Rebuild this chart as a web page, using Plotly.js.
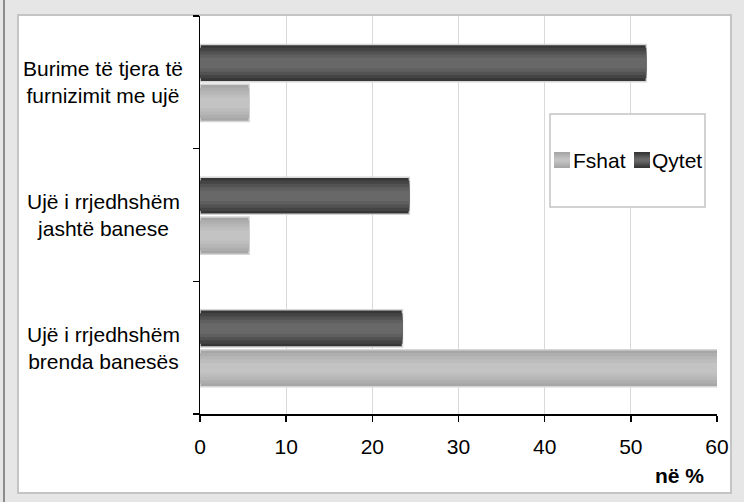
<!DOCTYPE html>
<html>
<head>
<meta charset="utf-8">
<script src="https://cdn.plot.ly/plotly-3.0.1.min.js"></script>
<style>
  html, body { margin: 0; padding: 0; background: #e6e6e6; }
  #chart { width: 744px; height: 502px; }
</style>
</head>
<body>
<div id="chart"></div>
<script>
// ---- data ----
const categories = [
  'Ujë i rrjedhshëm<br>brenda banesës',
  'Ujë i rrjedhshëm<br>jashtë banese',
  'Burime të tjera të<br>furnizimit me ujë'
];
const seriesNames = ['Fshat', 'Qytet'];
const fshatValues = [61, 5.7, 5.7];
const qytetValues = [23.5, 24.3, 51.8];
const xTickValues = [0, 10, 20, 30, 40, 50, 60];
const xAxisLabel = 'në %';

// ---- layout helpers (pixels -> paper) ----
const L = 200, R = 717, T = 16, B = 414;
const px = p => (p - L) / (R - L);
const py = p => (B - p) / (B - T);
const FONT = 'Liberation Sans, Arial, sans-serif';

const fshatShades = ['#a6a6a6', '#aeaeae', '#b6b6b6', '#bdbdbd', '#c3c3c3'];
const qytetShades = ['#363636', '#444444', '#525252', '#5f5f5f', '#686868'];
const insets = [0, 0.025, 0.05, 0.075, 0.1];
const barW = 0.28;

function layers(name, values, shades, offset) {
  return shades.map((c, i) => ({
    type: 'bar', orientation: 'h', name: name,
    x: values, y: categories,
    offset: offset + insets[i], width: barW - 2 * insets[i],
    marker: { color: c, line: { color: i === 0 ? '#d6d6d6' : c, width: i === 0 ? 1.5 : 0 } },
    showlegend: false, hoverinfo: 'skip'
  }));
}

const traces = [
  ...layers(seriesNames[0], fshatValues, fshatShades, -0.295),
  ...layers(seriesNames[1], qytetValues, qytetShades, 0.005)
];

// legend symbols drawn as gradient squares
function legendSymbol(x0, y0, size, shades) {
  const out = [];
  const step = size / (2 * shades.length);
  shades.forEach((c, i) => {
    out.push({
      type: 'rect', xref: 'paper', yref: 'paper', layer: 'above',
      x0: px(x0), x1: px(x0 + size),
      y0: py(y0 + i * step), y1: py(y0 + size - i * step),
      fillcolor: c, line: { width: 0 }
    });
  });
  return out;
}

const shapes = [
  // outer left dark rule
  { type: 'line', xref: 'paper', yref: 'paper', layer: 'below',
    x0: px(4), x1: px(4), y0: py(0), y1: py(502), line: { color: '#8c8c8c', width: 2 } },
  // white chart panel
  { type: 'rect', xref: 'paper', yref: 'paper', layer: 'below',
    x0: px(18), x1: px(731), y0: py(493), y1: py(15),
    fillcolor: '#ffffff', line: { color: '#c4c4c4', width: 2 } },
  // legend box
  { type: 'rect', xref: 'paper', yref: 'paper', layer: 'above',
    x0: px(550), x1: px(705), y0: py(207), y1: py(114),
    fillcolor: '#ffffff', line: { color: '#c4c4c4', width: 1.5 } },
  ...legendSymbol(554, 152, 16, fshatShades),
  ...legendSymbol(634, 152, 16, qytetShades)
];

const annotations = categories.map(c => ({
  xref: 'paper', yref: 'y', x: px(103), y: c,
  text: c, showarrow: false, xanchor: 'center', yanchor: 'middle', align: 'center',
  font: { family: FONT, size: 21, color: '#000' }
}));
annotations.push({
  xref: 'paper', yref: 'paper', x: px(706), y: py(476),
  text: '<b>' + xAxisLabel + '</b>', showarrow: false, xanchor: 'right', yanchor: 'middle',
  font: { family: FONT, size: 21, color: '#000' }
});
annotations.push({
  xref: 'paper', yref: 'paper', x: px(573), y: py(160),
  text: seriesNames[0], showarrow: false, xanchor: 'left', yanchor: 'middle',
  xshift: -2, font: { family: FONT, size: 21, color: '#000' }
});
annotations.push({
  xref: 'paper', yref: 'paper', x: px(652), y: py(160),
  text: seriesNames[1], showarrow: false, xanchor: 'left', yanchor: 'middle',
  xshift: -2, font: { family: FONT, size: 21, color: '#000' }
});

const layout = {
  width: 744, height: 502,
  margin: { l: L, r: 744 - R, t: T, b: 502 - B, pad: 0 },
  paper_bgcolor: '#e6e6e6', plot_bgcolor: '#ffffff',
  barmode: 'overlay',
  showlegend: false,
  font: { family: FONT, size: 21, color: '#000' },
  xaxis: {
    range: [0, 60], tickvals: xTickValues, ticktext: xTickValues.map(String),
    showgrid: true, gridcolor: '#d9d9d9', gridwidth: 1,
    zeroline: false, showline: true, linecolor: '#000', linewidth: 1.5,
    ticks: 'outside', ticklen: 6, tickcolor: '#000', tickwidth: 1.5,
    ticklabelstandoff: 7,
    tickfont: { family: FONT, size: 21, color: '#000' },
    fixedrange: true
  },
  yaxis: {
    type: 'category', categoryorder: 'array', categoryarray: categories,
    range: [-0.5, 2.5],
    showgrid: false, zeroline: false, showline: true, linecolor: '#000', linewidth: 1.5,
    ticks: 'outside', tickson: 'boundaries', ticklen: 6, tickcolor: '#000', tickwidth: 1.5,
    showticklabels: false, fixedrange: true
  },
  shapes: shapes,
  annotations: annotations
};

Plotly.newPlot('chart', traces, layout, { staticPlot: true, displayModeBar: false });
</script>
</body>
</html>
